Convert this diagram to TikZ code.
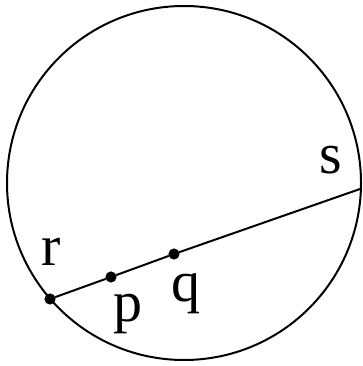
\documentclass[tikz,border=0pt]{standalone}
\usepackage{fontspec}
\setmainfont{Liberation Serif}
\begin{document}
\begin{tikzpicture}[x=1pt,y=-1pt,line width=2pt]
    \useasboundingbox (0,0) rectangle (362,366);
    \draw (184,183) circle (177);
    \node[draw,circle,fill=black,inner sep=0pt,minimum size=9pt](r)at (50,299){};
    \node[draw,circle,fill=black,inner sep=0pt,minimum size=9pt](p)at (111,277){};
    \node[draw,circle,fill=black,inner sep=0pt,minimum size=9pt](q)at (174,254){};
    \coordinate (s) at (360,189);
    \draw(r)--(p)--(q)--(s);
    \node[font=\fontsize{58}{58}\selectfont] at (51,252) {r};
    \node[font=\fontsize{58}{58}\selectfont] at (128,314) {p};
    \node[font=\fontsize{58}{58}\selectfont] at (186,294) {q};
    \node[font=\fontsize{58}{58}\selectfont] at (331,160) {s};
\end{tikzpicture}
\end{document}
